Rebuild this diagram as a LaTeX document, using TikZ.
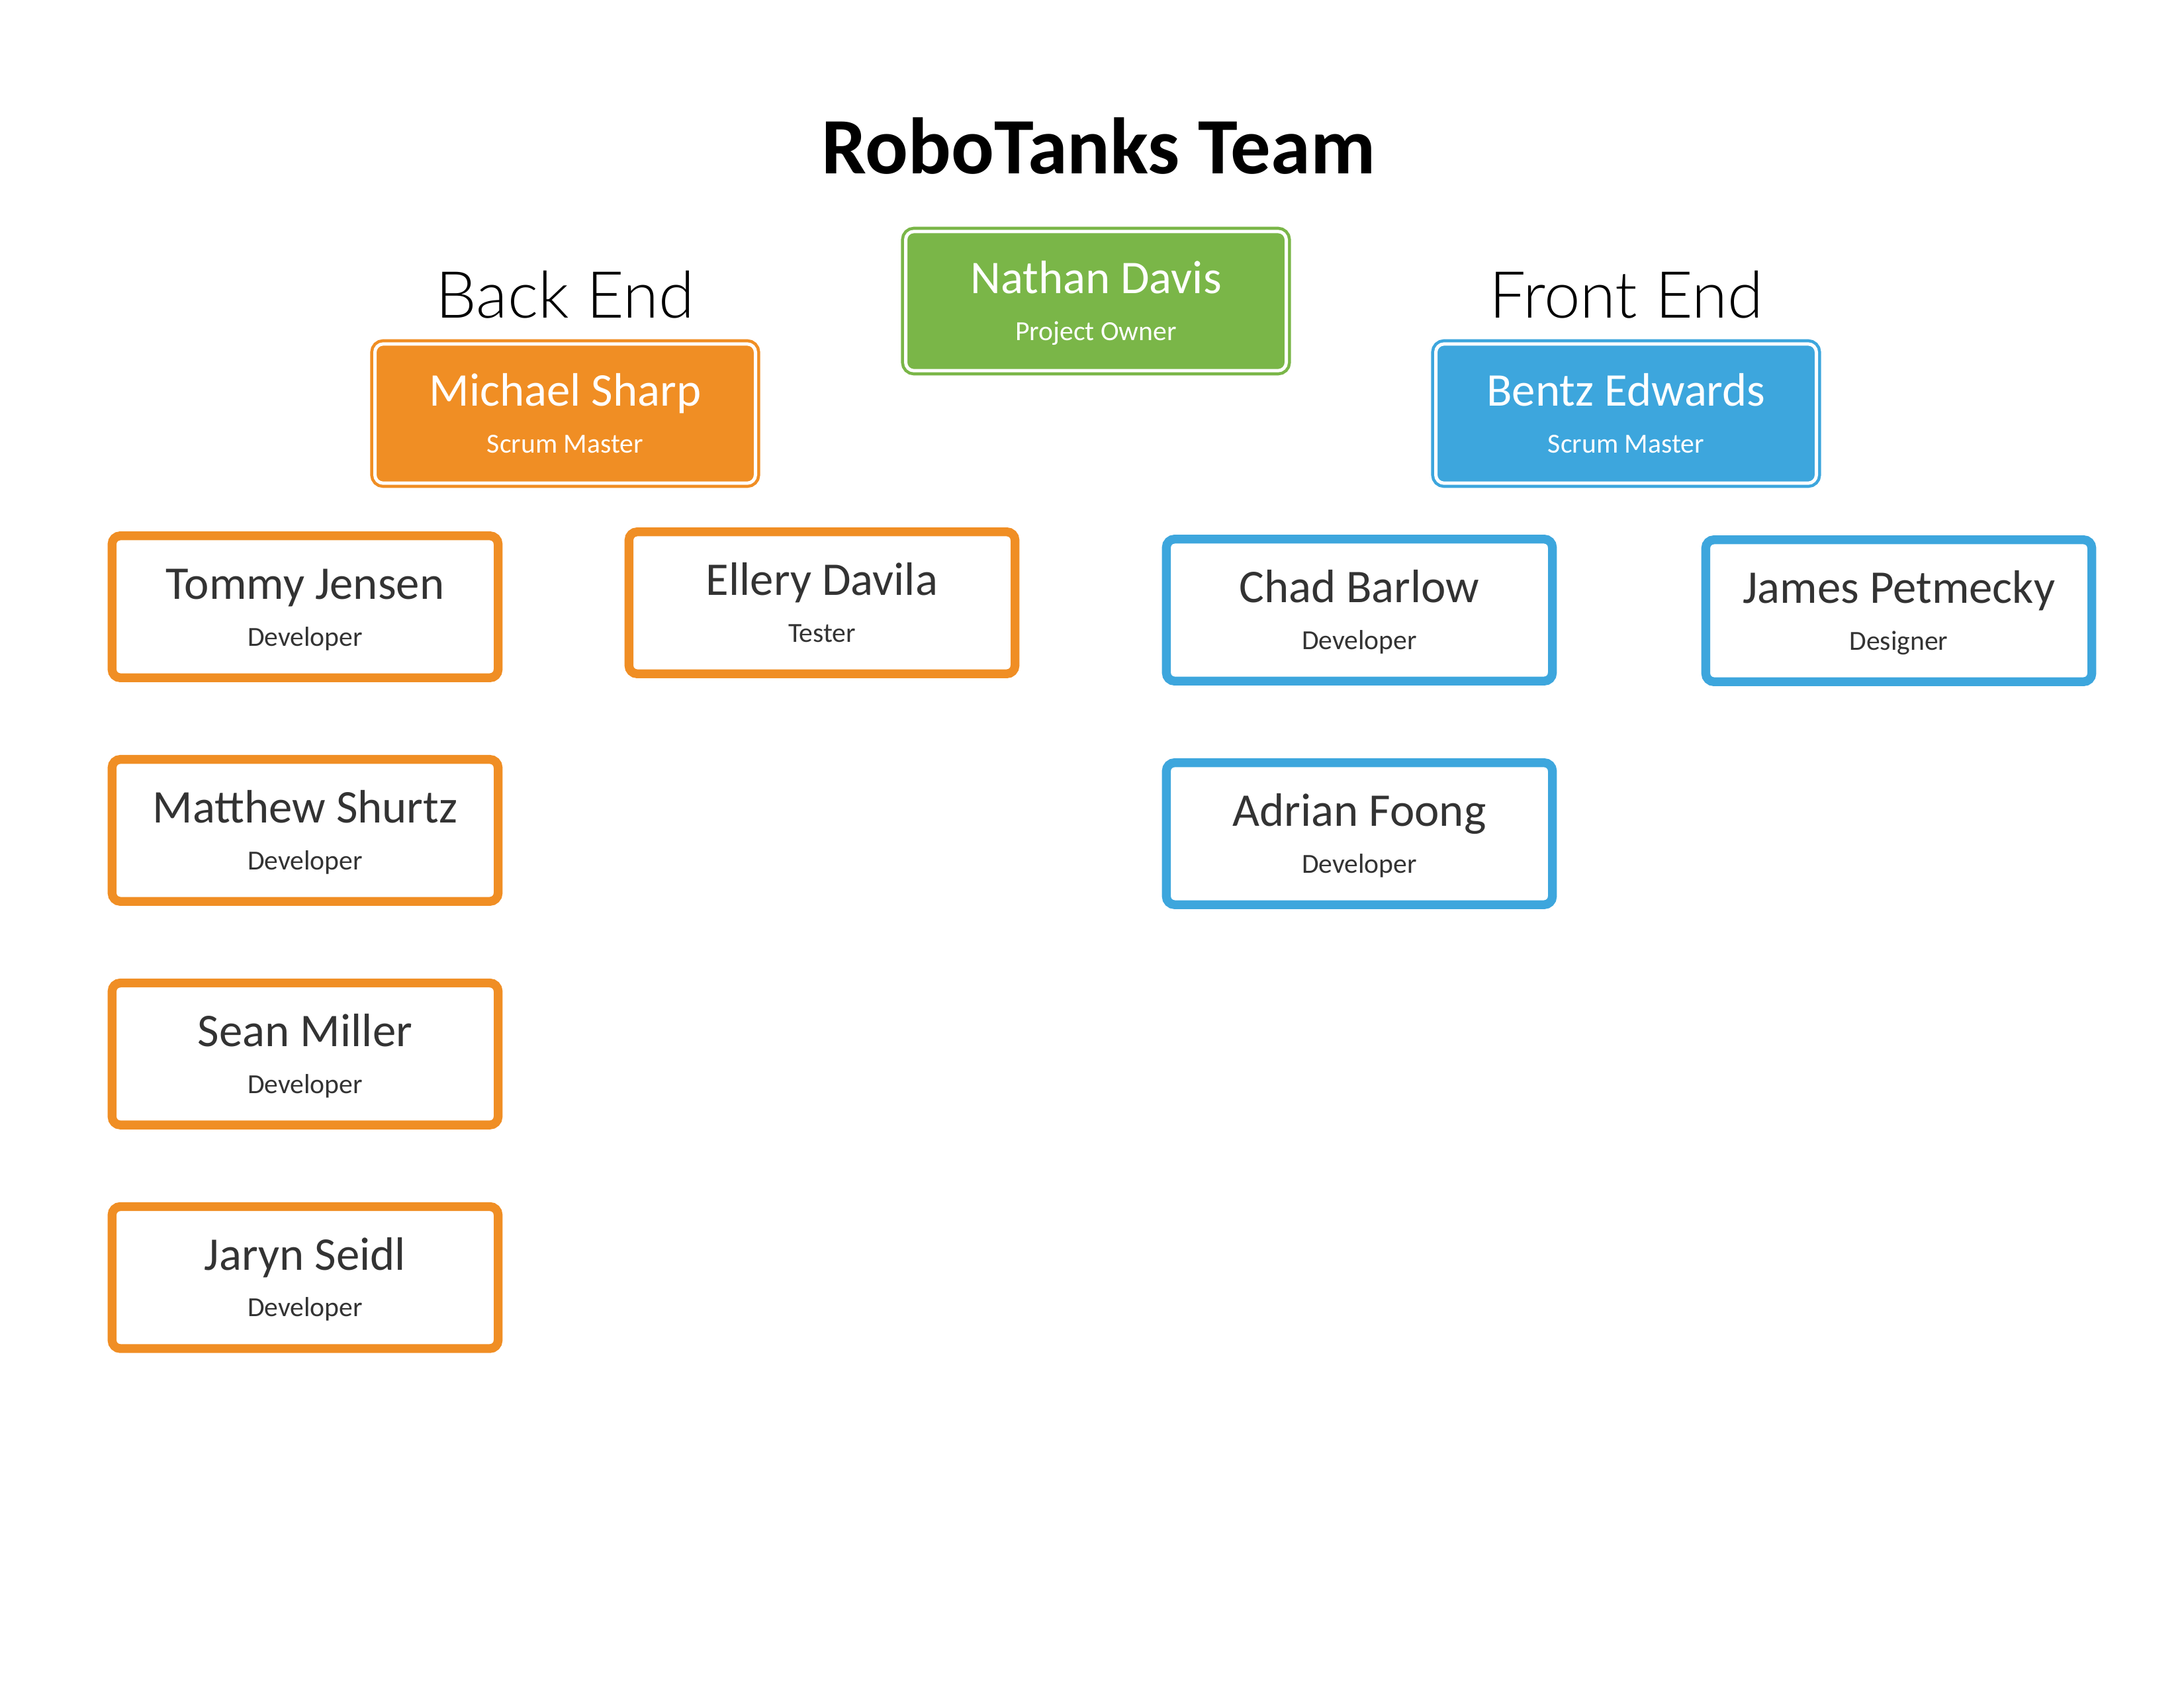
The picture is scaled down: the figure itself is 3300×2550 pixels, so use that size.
\documentclass[tikz,border=0pt]{standalone}
\usepackage{fontspec}
\setmainfont{Carlito}
\newfontfamily\thinfont{Lato Light}
\usetikzlibrary{positioning}

\definecolor{teamorange}{HTML}{F08E24}
\definecolor{teamblue}{HTML}{3DA6DD}
\definecolor{teamgreen}{HTML}{7AB648}
\definecolor{textgray}{HTML}{333333}
\newcommand{\namefont}{\fontsize{17}{17}\selectfont}

\begin{document}
\begin{tikzpicture}[x=0.24pt, y=-0.24pt, node distance=26.4pt]
  \tikzstyle{card} = [rectangle, rounded corners=3pt, inner sep=0pt, text height=29pt, text depth=0.6pt, align=center, font=\fontsize{10}{17}\selectfont]
  \tikzstyle{lead} = [card, minimum width=138pt, minimum height=50.5pt, line width=1.1pt, double=white, double distance=1.2pt, text=white]
  \tikzstyle{member} = [card, minimum width=140pt, minimum height=51.5pt, line width=3.2pt, fill=white, text=textgray]
  \tikzstyle{heading} = [anchor=base, font=\thinfont\fontsize{23.5}{24}\selectfont]

  \useasboundingbox (0,0) rectangle (3300,2550);

  \node (title) [anchor=base, font=\bfseries\fontsize{29}{29}\selectfont] at (1660,262) {RoboTanks Team};
  \node (backend) [heading] at (854,480) {Back End};
  \node (frontend) [heading] at (2457,480) {Front End};

  % leads
  \node (nathan) [lead, draw=teamgreen, fill=teamgreen] at (1656,455) {{\namefont Nathan Davis}\\Project Owner};
  \node (michael) [lead, draw=teamorange, fill=teamorange] at (854,625) {{\namefont Michael Sharp}\\Scrum Master};
  \node (bentz) [lead, draw=teamblue, fill=teamblue] at (2457,625) {{\namefont Bentz Edwards}\\Scrum Master};

  % back end team
  \node (tommy) [member, draw=teamorange] at (461,917) {{\namefont Tommy Jensen}\\Developer};
  \node (matthew) [member, draw=teamorange, below=of tommy] {{\namefont Matthew Shurtz}\\Developer};
  \node (sean) [member, draw=teamorange, below=of matthew] {{\namefont Sean Miller}\\Developer};
  \node (jaryn) [member, draw=teamorange, below=of sean] {{\namefont Jaryn Seidl}\\Developer};
  \node (ellery) [member, draw=teamorange] at (1242,911) {{\namefont Ellery Davila}\\Tester};

  % front end team
  \node (chad) [member, draw=teamblue] at (2054,922) {{\namefont Chad Barlow}\\Developer};
  \node (adrian) [member, draw=teamblue, below=of chad] {{\namefont Adrian Foong}\\Developer};
  \node (james) [member, draw=teamblue] at (2869,923) {{\namefont James Petmecky}\\Designer};
\end{tikzpicture}
\end{document}
